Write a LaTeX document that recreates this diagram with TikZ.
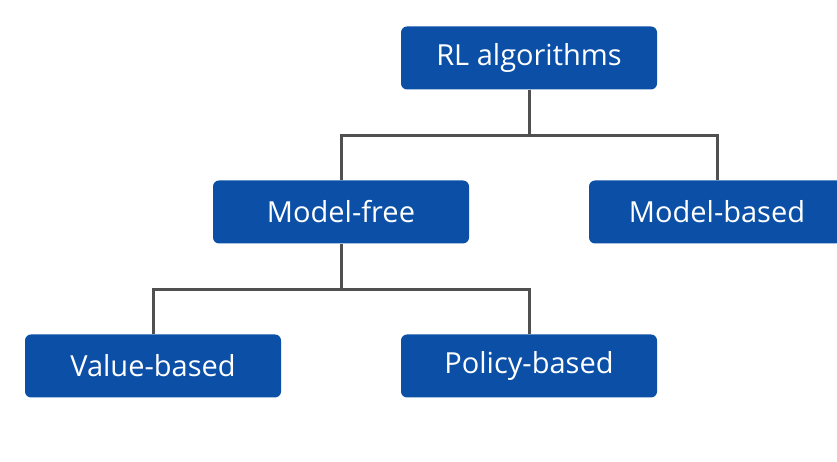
\documentclass[tikz,border=0pt]{standalone}
\usepackage{fontspec}
\setmainfont{Open Sans}
\usetikzlibrary{positioning}

\definecolor{boxblue}{RGB}{11,80,166}
\definecolor{linegray}{RGB}{80,80,80}

\tikzset{
    algbox/.style={rectangle, rounded corners=6pt, fill=boxblue, text=white,
        minimum width=256pt, minimum height=63pt, font=\fontsize{29}{32}\selectfont},
    branch/.style={draw=linegray, line width=3pt}
}

\begin{document}
\begin{tikzpicture}[node distance=154pt and 188pt, on grid]
    \useasboundingbox (0,0) rectangle (837pt,462pt);
    \clip (0,0) rectangle (837pt,462pt);
    \fill[white] (0,0) rectangle (837pt,462pt);

    \node[algbox] (rl) at (529pt,404pt) {RL algorithms};
    \node[algbox] (free) [below left=of rl] {Model-free};
    \node[algbox] (based) [below right=of rl] {Model-based};
    \node[algbox] (value) [below left=of free] {Value-based};
    \node[algbox] (policy) [below right=of free] {Policy-based};

    \draw[branch] (rl.south) -- ++(0,-46pt) -| (free.north);
    \draw[branch] (rl.south) -- ++(0,-46pt) -| (based.north);
    \draw[branch] (free.south) -- ++(0,-46pt) -| (value.north);
    \draw[branch] (free.south) -- ++(0,-46pt) -| (policy.north);
\end{tikzpicture}
\end{document}
